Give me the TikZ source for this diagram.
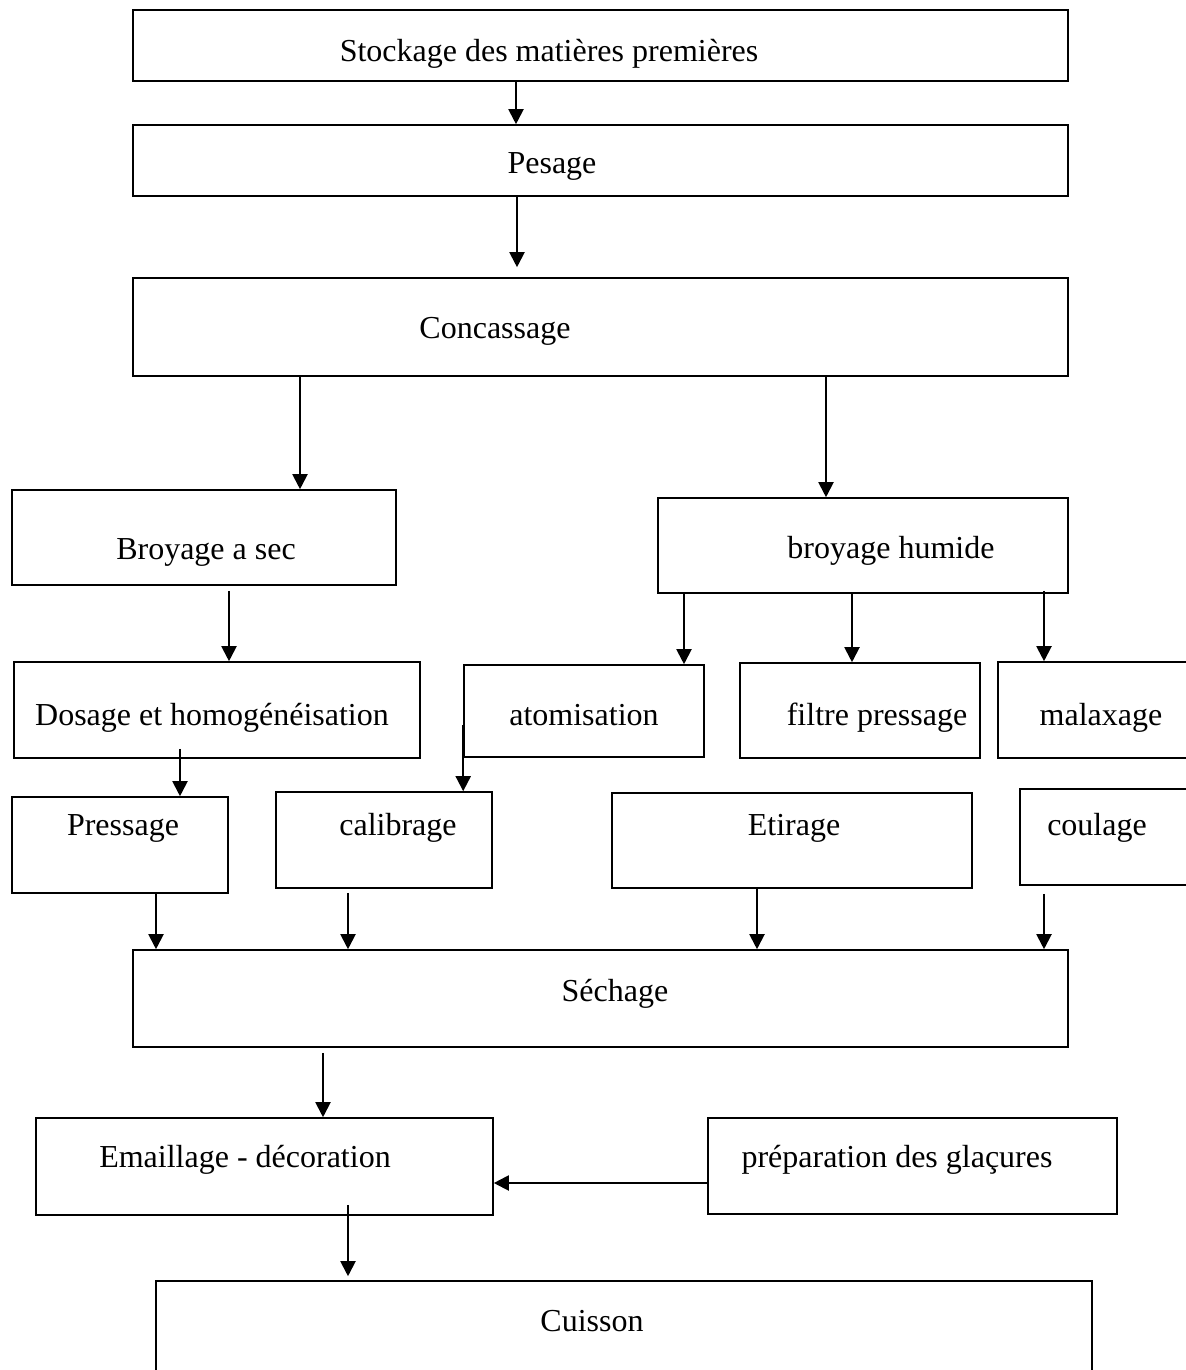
\documentclass[tikz,border=0pt]{standalone}
\usepackage{fontspec}
\setmainfont{Liberation Serif}
\usetikzlibrary{arrows.meta,fit,calc}
\begin{document}
\begin{tikzpicture}[x=0.5pt,y=-0.5pt,
  box/.style={draw=black,line width=0.8pt,rectangle,inner sep=0pt},
  lbl/.style={anchor=base,inner sep=0pt,font=\fontsize{16}{19}\selectfont},
  arr/.style={draw=black,line width=1pt,-{Triangle[length=7.5pt,width=7.5pt]}}]
\useasboundingbox (0,0) rectangle (1186,1370);
\fill[white] (0,0) rectangle (1186,1370);
\clip (0,0) rectangle (1186,1370);
% x / y guide coordinates for connectors
\foreach \xx in {156,180,229,300,323,348,516,517,684,757,826,852,1044}
  {\coordinate (a\xx) at (\xx,0);}
\coordinate (y1183) at (0,1183);
% boxes
\node[box,fit={(133,10) (1068,81)}] (stock) {};
\node[box,fit={(133,125) (1068,196)}] (pesage) {};
\node[box,fit={(133,278) (1068,376)}] (conc) {};
\node[box,fit={(12,490) (396,585)}] (bsec) {};
\node[box,fit={(658,498) (1068,593)}] (bhum) {};
\node[box,fit={(14,662) (420,758)}] (dosage) {};
\node[box,fit={(464,665) (704,757)}] (atom) {};
\node[box,fit={(740,663) (980,758)}] (filtre) {};
\node[box,fit={(998,662) (1210,758)}] (malax) {};
\node[box,fit={(12,797) (228,893)}] (pressage) {};
\node[box,fit={(276,792) (492,888)}] (calib) {};
\node[box,fit={(612,793) (972,888)}] (etir) {};
\node[box,fit={(1020,789) (1210,885)}] (coul) {};
\node[box,fit={(133,950) (1068,1047)}] (sech) {};
\node[box,fit={(36,1118) (493,1215)}] (email) {};
\node[box,fit={(708,1118) (1117,1214)}] (prep) {};
\node[box,fit={(156,1281) (1092,1390)}] (cuis) {};
% texts
\node[lbl] (tstock) at (549,62) {Stockage des matières premières};
\node[lbl] (tpesage) at (552,173) {Pesage};
\node[lbl] (tconc) at (495,338) {Concassage};
\node[lbl] (tbsec) at (206,559) {Broyage a sec};
\node[lbl] (tbhum) at (891,558) {broyage humide};
\node[lbl] (tdosage) at (212,725) {Dosage et homogénéisation};
\node[lbl] (tatom) at (584,725) {atomisation};
\node[lbl] (tfiltre) at (877,725) {filtre pressage};
\node[lbl] (tmalax) at (1101,725) {malaxage};
\node[lbl] (tpressage) at (123,835) {Pressage};
\node[lbl] (tcalib) at (398,835) {calibrage};
\node[lbl] (tetir) at (794,835) {Etirage};
\node[lbl] (tcoul) at (1097,835) {coulage};
\node[lbl] (tsech) at (615,1001) {Séchage};
\node[lbl] (temail) at (245,1167) {Emaillage - décoration};
\node[lbl] (tprep) at (897,1167) {préparation des glaçures};
\node[lbl] (tcuis) at (592,1331) {Cuisson};
% connectors
\draw[arr] (stock.south -| a516) -- (pesage.north -| a516);
\draw[arr] (pesage.south -| a517) -- ($(conc.north -| a517)+(0,-10)$);
\draw[arr] (conc.south -| a300) -- (bsec.north -| a300);
\draw[arr] (conc.south -| a826) -- (bhum.north -| a826);
\draw[arr] ($(bsec.south -| a229)+(0,5)$) -- (dosage.north -| a229);
\draw[arr] (bhum.south -| a684) -- (atom.north -| a684);
\draw[arr] (bhum.south -| a852) -- (filtre.north -| a852);
\draw[arr] ($(bhum.south -| a1044)+(0,-3)$) -- (malax.north -| a1044);
\draw[arr] ($(dosage.south -| a180)+(0,-10)$) -- (pressage.north -| a180);
\draw[arr] ($(atom.south west)+(0,-33)$) -- (calib.north -| atom.south west);
\draw[arr] (pressage.south -| a156) -- (sech.north -| a156);
\draw[arr] ($(calib.south -| a348)+(0,4)$) -- (sech.north -| a348);
\draw[arr] (etir.south -| a757) -- (sech.north -| a757);
\draw[arr] ($(coul.south -| a1044)+(0,8)$) -- (sech.north -| a1044);
\draw[arr] ($(sech.south -| a323)+(0,5)$) -- (email.north -| a323);
\draw[arr] (prep.west |- y1183) -- (email.east |- y1183);
\draw[arr] ($(email.south -| a348)+(0,-11)$) -- ($(cuis.north -| a348)+(0,-4)$);
\end{tikzpicture}
\end{document}
